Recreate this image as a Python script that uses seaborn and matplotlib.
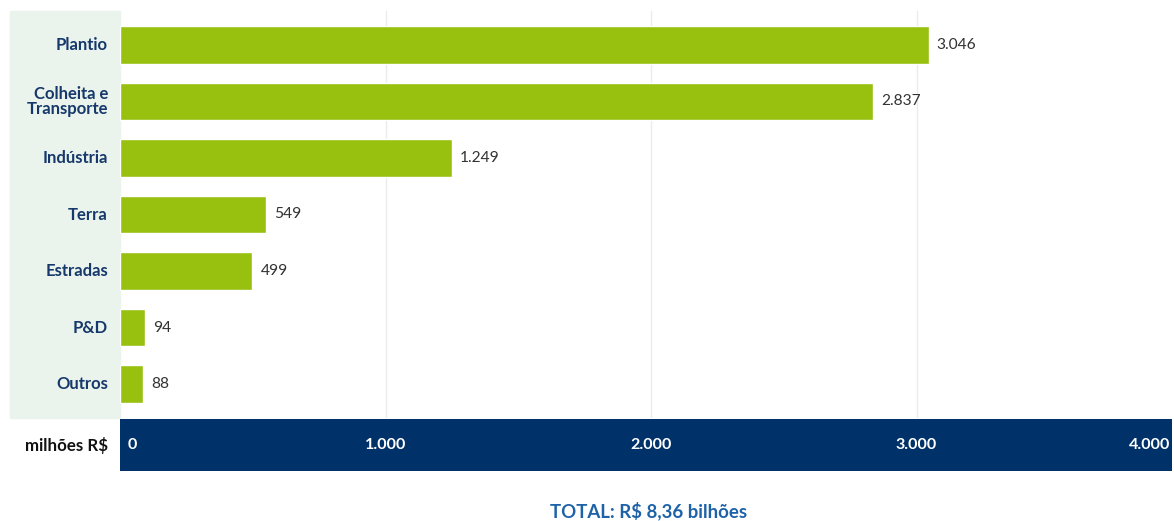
import matplotlib
matplotlib.use("Agg")
import matplotlib.pyplot as plt
from matplotlib.patches import Rectangle
import seaborn as sns
import pandas as pd

categories = ["Plantio", "Colheita e\nTransporte", "Indústria", "Terra", "Estradas", "P&D", "Outros"]
values = [3046, 2837, 1249, 549, 499, 94, 88]
ticks = [0, 1000, 2000, 3000, 4000]
tick_labels = ["0", "1.000", "2.000", "3.000", "4.000"]
unit_label = "milhões R$"
total_label = "TOTAL: R$ 8,36 bilhões"

BAR = "#97C00F"
NAVY = "#003169"
LABEL = "#16386B"
PANEL = "#EAF4EC"
TOTAL_BLUE = "#1E63A8"

sns.set_theme(style="white")
plt.rcParams["font.family"] = ["Lato", "DejaVu Sans"]

W, H = 1174, 521
fig = plt.figure(figsize=(W / 100, H / 100), dpi=100)

def fx(px):
    return px / W

def fy(py):
    return 1 - py / H

# light category panel, kept beneath the axes
fig.patches.append(Rectangle((fx(10), fy(418)), fx(120) - fx(10), fy(11) - fy(418),
                             transform=fig.transFigure, color=PANEL, zorder=-5))

x0, x1 = 120, 1172
ax = fig.add_axes([fx(x0), fy(418), fx(x1) - fx(x0), fy(11) - fy(418)])
ax.set_facecolor("none")
df = pd.DataFrame({"categoria": categories, "valor": values})
sns.barplot(data=df, y="categoria", x="valor", orient="h", color=BAR,
            saturation=1, width=0.67, ax=ax, zorder=2)
xmax = 3962
ax.set_xlim(0, xmax)
ax.set_ylim(6.6, -0.6)
for t in ticks[1:-1]:
    ax.axvline(t, color="#EBEBEB", lw=1, zorder=1)
for s in ax.spines.values():
    s.set_visible(False)
ax.set_xticks([])
ax.set_yticks([])
ax.set_xlabel("")
ax.set_ylabel("")

for i, (c, v) in enumerate(zip(categories, values)):
    ax.annotate(f"{v:,}".replace(",", "."), (v, i), xytext=(8, 0),
                textcoords="offset pixels", va="center", ha="left",
                fontsize=11.2, color="#333333", annotation_clip=False)
    ax.annotate(c, (0, i), xytext=(-12, 0), textcoords="offset pixels",
                va="center", ha="right", fontsize=12, fontweight="bold",
                color=LABEL, linespacing=0.95, annotation_clip=False)

# axis band
bx = fig.add_axes([fx(x0), fy(471), fx(x1) - fx(x0), fy(419) - fy(471)])
bx.set_facecolor(NAVY)
bx.set_xlim(0, xmax)
bx.set_ylim(0, 1)
bx.set_xticks([])
bx.set_yticks([])
for s in bx.spines.values():
    s.set_visible(False)
for t, lab in zip(ticks, tick_labels):
    if t == 0:
        bx.annotate(lab, (t, 0.5), xytext=(8, 0), textcoords="offset pixels",
                    ha="left", va="center", color="white", fontsize=11.6,
                    fontweight="bold", annotation_clip=False)
    elif t > xmax:
        bx.annotate(lab, (xmax, 0.5), xytext=(-2, 0), textcoords="offset pixels",
                    ha="right", va="center", color="white", fontsize=11.6,
                    fontweight="bold", annotation_clip=False)
    else:
        bx.text(t, 0.5, lab, ha="center", va="center", color="white",
                fontsize=11.6, fontweight="bold")

fig.text(fx(108), fy(446), unit_label, ha="right", va="center",
         fontsize=12.2, fontweight="bold", color="#111111")
fig.text(fx(649), fy(511), total_label, ha="center", va="center",
         fontsize=13.4, fontweight="bold", color=TOTAL_BLUE)

fig.savefig("out.png", dpi=100)
